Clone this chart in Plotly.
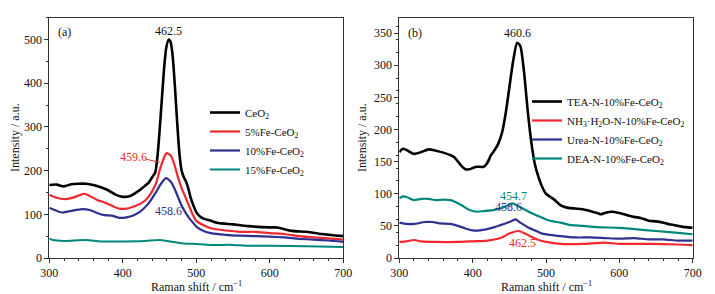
import plotly.graph_objects as go

# ---------- Panel (a) data ----------
a_ceo2_x = [300, 310, 320, 330, 340, 350, 360, 370, 380, 390, 400, 410, 420, 430, 435, 440, 444, 447, 450, 453, 456, 459, 462.5, 465, 468, 471, 474, 477, 480, 483, 486, 489, 492, 495, 500, 505, 510, 520, 530, 550, 570, 600, 610, 630, 650, 670, 700]
a_ceo2_y = [167, 168, 164, 169, 170, 170, 167, 162, 155, 145, 140, 142, 152, 165, 172, 185, 195, 230, 290, 360, 430, 480, 500, 495, 460, 390, 310, 240, 200, 185, 175, 160, 140, 125, 105, 95, 90, 85, 80, 77, 73, 70, 70, 62, 60, 55, 50]

a_fe5_x = [300, 310, 320, 330, 340, 348, 355, 365, 375, 385, 395, 405, 415, 425, 435, 445, 450, 455, 459.6, 465, 470, 475, 480, 485, 490, 495, 500, 510, 520, 540, 560, 580, 600, 620, 640, 660, 680, 700]
a_fe5_y = [145, 138, 135, 137, 143, 147, 142, 133, 127, 120, 113, 113, 118, 125, 140, 170, 200, 225, 240, 235, 215, 185, 160, 140, 120, 100, 85, 75, 68, 63, 60, 60, 57, 55, 50, 47, 45, 42]

a_fe10_x = [300, 310, 318, 330, 345, 355, 365, 375, 385, 395, 405, 415, 425, 435, 445, 452, 458.6, 465, 470, 475, 480, 485, 490, 495, 500, 510, 520, 540, 560, 580, 600, 620, 640, 660, 680, 700]
a_fe10_y = [115, 108, 104, 108, 112, 110, 103, 98, 97, 92, 93, 98, 108, 125, 150, 170, 183, 175, 160, 140, 120, 105, 92, 82, 72, 62, 57, 53, 51, 50, 49, 47, 44, 42, 40, 37]

a_fe15_x = [300, 305, 320, 350, 370, 400, 430, 450, 460, 480, 500, 520, 550, 570, 600, 650, 700]
a_fe15_y = [45, 41, 39, 41, 38, 38, 39, 41, 39, 34, 32, 30, 30, 28, 28, 27, 25]

# ---------- Panel (b) data ----------
b_tea_x = [300, 305, 310, 320, 330, 340, 350, 360, 370, 375, 380, 385, 390, 395, 400, 405, 415, 420, 425, 430, 435, 440, 445, 450, 455, 460.6, 465, 470, 475, 480, 485, 490, 495, 500, 510, 520, 530, 540, 550, 560, 570, 575, 580, 590, 600, 610, 620, 630, 640, 650, 660, 670, 680, 690, 700]
b_tea_y = [165, 170, 168, 162, 165, 169, 167, 164, 160, 157, 150, 143, 138, 138, 140, 142, 142, 148, 160, 168, 178, 195, 225, 265, 305, 335, 330, 290, 230, 180, 145, 125, 110, 100, 92, 82, 78, 77, 76, 73, 70, 68, 70, 72, 70, 67, 64, 62, 58, 57, 55, 52, 50, 48, 47]

b_nh3_x = [300, 310, 320, 330, 350, 380, 400, 420, 440, 450, 462.5, 470, 480, 490, 500, 520, 550, 580, 600, 640, 680, 700]
b_nh3_y = [25, 26, 28, 26, 25, 25, 26, 27, 32, 38, 42, 39, 33, 28, 25, 22, 22, 24, 22, 22, 21, 20]

b_urea_x = [300, 310, 320, 335, 345, 355, 370, 380, 390, 400, 410, 420, 430, 440, 450, 458.6, 465, 475, 485, 495, 505, 520, 540, 560, 580, 600, 620, 640, 660, 680, 700]
b_urea_y = [55, 53, 53, 56, 56, 54, 53, 50, 46, 43, 43, 45, 48, 52, 56, 60, 55, 48, 43, 38, 36, 34, 32, 32, 31, 30, 31, 29, 29, 27, 27]

b_dea_x = [300, 305, 310, 320, 330, 340, 350, 360, 370, 375, 385, 395, 405, 415, 430, 440, 450, 454.7, 460, 470, 480, 490, 500, 510, 520, 530, 550, 570, 600, 620, 650, 680, 700]
b_dea_y = [93, 96, 95, 90, 92, 92, 90, 91, 90, 88, 82, 75, 72, 73, 75, 78, 83, 85, 82, 76, 70, 65, 60, 57, 55, 52, 50, 48, 47, 45, 42, 39, 37]

names_a = ["CeO<sub>2</sub>", "5%Fe-CeO<sub>2</sub>", "10%Fe-CeO<sub>2</sub>", "15%Fe-CeO<sub>2</sub>"]
names_b = ["TEA-N-10%Fe-CeO<sub>2</sub>", "NH<sub>3</sub>·H<sub>2</sub>O-N-10%Fe-CeO<sub>2</sub>",
           "Urea-N-10%Fe-CeO<sub>2</sub>", "DEA-N-10%Fe-CeO<sub>2</sub>"]

BLACK, RED, BLUE, TEAL = "#000000", "#f0282f", "#2e3192", "#00897b"
FONT = "Liberation Serif, Times New Roman, serif"

# page has an 8px body margin; the figure is sized so it fits the 715x294 window
W, H, OFF = 707, 286, 8


def px(xw):
    return (xw - OFF) / W


def py(yw):
    return 1 - (yw - OFF) / H


fig = go.Figure()
series_a = [(a_ceo2_x, a_ceo2_y, BLACK, 2.6), (a_fe5_x, a_fe5_y, RED, 2.2),
            (a_fe10_x, a_fe10_y, BLUE, 2.2), (a_fe15_x, a_fe15_y, TEAL, 2.0)]
for (xs, ys, c, w), n in zip(series_a, names_a):
    fig.add_trace(go.Scatter(x=xs, y=ys, mode="lines", name=n, line=dict(color=c, width=w, shape="spline", smoothing=0.6),
                             xaxis="x", yaxis="y", legend="legend"))
series_b = [(b_tea_x, b_tea_y, BLACK, 2.6), (b_nh3_x, b_nh3_y, RED, 2.2),
            (b_urea_x, b_urea_y, BLUE, 2.2), (b_dea_x, b_dea_y, TEAL, 2.2)]
for (xs, ys, c, w), n in zip(series_b, names_b):
    fig.add_trace(go.Scatter(x=xs, y=ys, mode="lines", name=n, line=dict(color=c, width=w, shape="spline", smoothing=0.6),
                             xaxis="x2", yaxis="y2", legend="legend2"))

axis_common = dict(showline=True, linecolor="#333333", linewidth=1, mirror=True, showgrid=False, zeroline=False,
                   automargin=False,
                   ticks="outside", ticklen=4, tickwidth=1, tickcolor="#333333",
                   tickfont=dict(family=FONT, size=12, color="#111111"),
                   minor=dict(ticks="outside", ticklen=2, tickwidth=1, tickcolor="#333333"))

ydom = [py(258), py(17.7)]
fig.update_layout(
    width=W, height=H, margin=dict(l=0, r=0, t=0, b=0, autoexpand=False),
    paper_bgcolor="white", plot_bgcolor="white",
    font=dict(family=FONT, size=12, color="#111111"),
    xaxis=dict(domain=[px(49.3), px(343.3)], range=[300, 700], tickvals=[300, 400, 500, 600, 700], anchor="y",
               **axis_common),
    yaxis=dict(domain=ydom, range=[0, 550], tickvals=[0, 100, 200, 300, 400, 500], anchor="x",
               **axis_common),
    xaxis2=dict(domain=[px(399.3), px(692.7)], range=[300, 700], tickvals=[300, 400, 500, 600, 700], anchor="y2",
                **axis_common),
    yaxis2=dict(domain=ydom, range=[0, 374], tickvals=[0, 50, 100, 150, 200, 250, 300, 350], anchor="x2",
                **axis_common),
    legend=dict(x=px(205), y=py(98), xanchor="left", yanchor="top", bgcolor="rgba(0,0,0,0)",
                font=dict(family=FONT, size=11, color="#111111"), tracegroupgap=0, itemwidth=30),
    legend2=dict(x=px(527), y=py(87), xanchor="left", yanchor="top", bgcolor="rgba(0,0,0,0)",
                 font=dict(family=FONT, size=11, color="#111111"), tracegroupgap=0, itemwidth=30),
)

ann = [
    dict(x=320, y=518, text="(a)", xref="x", yref="y", color="#111111"),
    dict(x=462.5, y=520, text="462.5", xref="x", yref="y", color="#111111"),
    dict(x=414, y=231, text="459.6", xref="x", yref="y", color=RED),
    dict(x=462, y=108, text="458.6", xref="x", yref="y", color=BLUE),
    dict(x=321, y=350, text="(b)", xref="x2", yref="y2", color="#111111"),
    dict(x=461, y=350, text="460.6", xref="x2", yref="y2", color="#111111"),
    dict(x=455.5, y=97, text="454.7", xref="x2", yref="y2", color=TEAL),
    dict(x=448.6, y=79, text="458.6", xref="x2", yref="y2", color=BLUE),
    dict(x=468, y=23, text="462.5", xref="x2", yref="y2", color=RED),
]
for a in ann:
    fig.add_annotation(x=a["x"], y=a["y"], xref=a["xref"], yref=a["yref"], text=a["text"], showarrow=False,
                       xanchor="center", yanchor="middle",
                       font=dict(family=FONT, size=12, color=a["color"]))
fig.add_shape(type="line", xref="x", yref="y", x0=432, y0=226, x1=450, y1=219, line=dict(color=RED, width=1))

# axis titles
for xc in (196, 546):
    fig.add_annotation(x=px(xc), y=py(286), xref="paper", yref="paper", text="Raman shift / cm<sup>−1</sup>",
                       xanchor="center", yanchor="middle",
                       showarrow=False, font=dict(family=FONT, size=12, color="#111111"))
for xc in (15, 362):
    fig.add_annotation(x=px(xc), y=py(138), xref="paper", yref="paper", text="Intensity / a.u.", textangle=-90,
                       xanchor="center", yanchor="middle",
                       showarrow=False, font=dict(family=FONT, size=12, color="#111111"))

fig.write_html("out.html")
